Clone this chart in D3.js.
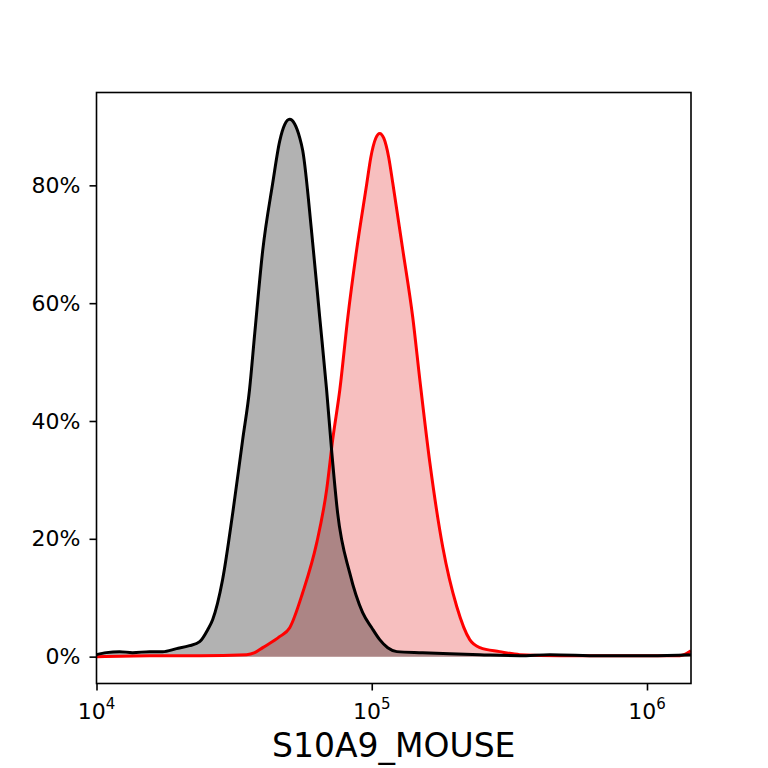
<!DOCTYPE html>
<html>
<head>
<meta charset="utf-8">
<script src="https://cdn.jsdelivr.net/npm/d3@7"></script>
<style>
  body { margin: 0; background: #fff; }
  svg text { font-family: "DejaVu Sans", sans-serif; fill: #000; }
</style>
</head>
<body>
<div id="chart"></div>
<script>
// control sample (black / grey fill)
var ctrlX = [10000, 10860, 12130, 13520, 15600, 17380, 19540, 21780, 23710, 25350,
             26420, 28710, 31260, 33960, 35970, 37580, 40180, 43650, 46300, 48270,
             50320, 52480, 54720, 56130, 60530, 64710, 68550, 71610, 75160, 83180,
             92680, 100000, 106900, 114300, 123300, 153100, 192300, 247200, 345100, 443600,
             674500, 1026000, 1445000];
var ctrlY = [0.34, 0.68, 0.85, 0.68, 0.85, 0.85, 1.36, 1.86, 2.54, 4.58,
             6.27, 13.05, 24.4, 36.8, 45.3, 54.9, 69.0, 80.3, 87.5, 90.3,
             91.2, 90.4, 88.1, 85.9, 71.9, 57.6, 45.3, 34.6, 24.4, 14.2,
             7.46, 4.9, 2.88, 1.5, 0.85, 0.68, 0.51, 0.34, 0.17, 0.34,
             0.17, 0.17, 0.34];

// stained sample (red / pink fill)
var stainX = [10000, 15600, 23710, 35080, 37580, 40180, 46240, 50350, 56100, 63100,
              68550, 72110, 76560, 81850, 88100, 95940, 99170, 103400, 106900, 110600,
              115300, 119300, 129700, 140900, 149600, 162600, 181100, 203700, 227000, 247200,
              291700, 345100, 483100, 674500, 1318000, 1445000];
var stainY = [0, 0.17, 0.17, 0.34, 0.68, 1.53, 3.39, 4.92, 10.85, 19.3,
              28.3, 36.8, 45.3, 57.6, 69.0, 80.3, 84.7, 88.0, 88.8, 88.0,
              84.7, 80.3, 69.0, 57.6, 46.9, 32.9, 18.6, 8.47, 2.88, 1.53,
              0.85, 0.34, 0.17, 0.17, 0.17, 1.0];

var yTicks = [0, 20, 40, 60, 80];
var xTicks = [1e4, 1e5, 1e6];
var xLabel = "S10A9_MOUSE";

var W = 768, H = 768;
var mLeft = 96.5, mRight = 691, mTop = 92.5, mBottom = 683.5;

var svg = d3.select("#chart").append("svg")
    .attr("width", W).attr("height", H);

var x = d3.scaleLog().domain([1e4, 1.445e6]).range([mLeft, mRight]);
var y = d3.scaleLinear().domain([-4.56, 95.76]).range([mBottom, mTop]);

function pts(xs, ys) {
  return xs.map(function(d, i) { return [d, ys[i]]; });
}
var ctrl = pts(ctrlX, ctrlY);
var stain = pts(stainX, stainY);

var area = d3.area()
    .x(function(d) { return x(d[0]); })
    .y0(y(0))
    .y1(function(d) { return y(d[1]); })
    .curve(d3.curveMonotoneX);
var line = d3.line()
    .x(function(d) { return x(d[0]); })
    .y(function(d) { return y(d[1]); })
    .curve(d3.curveMonotoneX);

svg.append("defs").append("clipPath").attr("id", "clip")
  .append("rect").attr("x", mLeft).attr("y", mTop)
  .attr("width", mRight - mLeft).attr("height", mBottom - mTop);

var plot = svg.append("g").attr("clip-path", "url(#clip)");

plot.append("path").datum(stain).attr("d", area)
    .attr("fill", "#f08080").attr("fill-opacity", 0.5);
plot.append("path").datum(ctrl).attr("d", area)
    .attr("fill", "rgb(0,0,0)").attr("fill-opacity", 0.3);
plot.append("path").datum(stain).attr("d", line)
    .attr("fill", "none").attr("stroke", "#ff0000").attr("stroke-width", 3)
    .attr("stroke-linejoin", "round");
plot.append("path").datum(ctrl).attr("d", line)
    .attr("fill", "none").attr("stroke", "#000").attr("stroke-width", 3)
    .attr("stroke-linejoin", "round");

// frame
svg.append("rect").attr("x", mLeft).attr("y", mTop)
    .attr("width", mRight - mLeft).attr("height", mBottom - mTop)
    .attr("fill", "none").attr("stroke", "#000").attr("stroke-width", 1.6);

// y axis
var yAxis = svg.append("g").attr("transform", "translate(" + mLeft + ",0)")
    .call(d3.axisLeft(y).tickValues(yTicks).tickSize(7).tickPadding(9)
      .tickFormat(function(d) { return d + "%"; }));
yAxis.select(".domain").remove();
yAxis.selectAll("line").attr("stroke-width", 1.6);
yAxis.selectAll("text").attr("font-size", 22).attr("font-family", "DejaVu Sans");

// x axis
var xAxis = svg.append("g").attr("transform", "translate(0," + mBottom + ")")
    .call(d3.axisBottom(x).tickValues(xTicks).tickSize(7).tickFormat(""));
xAxis.select(".domain").remove();
xAxis.selectAll("line").attr("stroke-width", 1.6);

xTicks.forEach(function(t) {
  var txt = svg.append("text")
      .attr("x", x(t)).attr("y", mBottom + 35)
      .attr("text-anchor", "middle")
      .attr("font-size", 22);
  txt.append("tspan").text("10");
  txt.append("tspan").attr("dy", -10).attr("font-size", 15)
      .text(Math.round(Math.log10(t)));
});

svg.append("text")
    .attr("x", (mLeft + mRight) / 2).attr("y", 757)
    .attr("text-anchor", "middle")
    .attr("font-size", 33)
    .text(xLabel);
</script>
</body>
</html>
